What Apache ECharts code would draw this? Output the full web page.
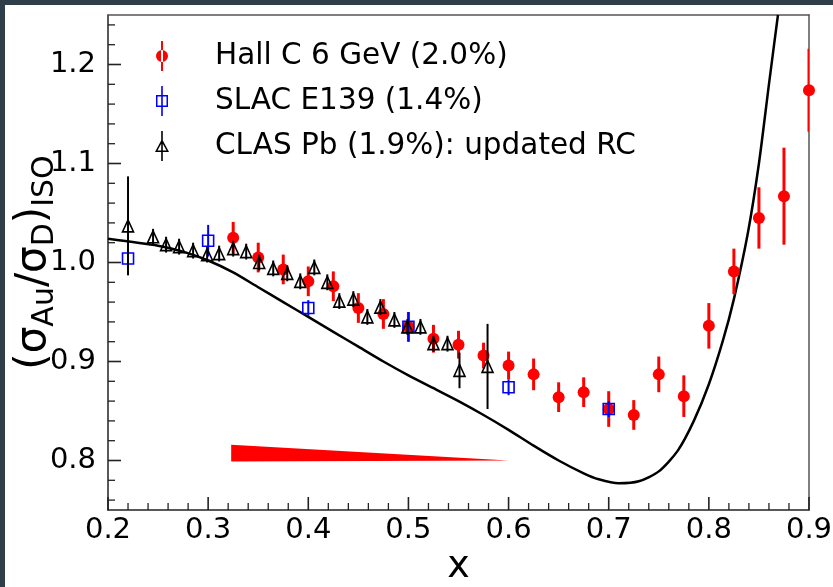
<!DOCTYPE html>
<html>
<head>
<meta charset="utf-8">
<script src="https://cdn.jsdelivr.net/npm/echarts@6/dist/echarts.min.js"></script>
<style>
html,body{margin:0;padding:0;background:#2f3f4a;width:833px;height:587px;overflow:hidden;}
#panel{position:absolute;left:5px;top:5px;width:828px;height:582px;background:#ffffff;}
#chart{position:absolute;left:0;top:0;width:833px;height:587px;}
</style>
</head>
<body>
<div id="panel"></div>
<div id="chart"></div>
<script>
// Hall C 6 GeV
const hallCX = [0.325,0.35,0.375,0.40,0.425,0.45,0.475,0.50,0.525,0.55,0.575,0.60,0.625,0.65,0.675,0.70,0.725,0.75,0.775,0.80,0.825,0.85,0.875,0.90];
const hallCY = [1.025,1.005,0.993,0.981,0.976,0.954,0.948,0.935,0.923,0.917,0.906,0.896,0.887,0.864,0.869,0.852,0.846,0.887,0.865,0.936,0.991,1.045,1.067,1.174];
const hallCErr = [0.016,0.015,0.015,0.015,0.015,0.015,0.015,0.015,0.014,0.014,0.013,0.014,0.016,0.015,0.015,0.018,0.015,0.018,0.021,0.023,0.023,0.031,0.049,0.042];
// SLAC E139
const slacX = [0.22,0.30,0.40,0.50,0.60,0.70];
const slacY = [1.004,1.022,0.954,0.935,0.874,0.852];
const slacErr = [0.015,0.016,0.008,0.015,0.008,0.008];
// CLAS Pb
const clasX = [0.22,0.245,0.258,0.271,0.285,0.299,0.311,0.325,0.338,0.351,0.365,0.379,0.392,0.406,0.419,0.431,0.445,0.459,0.472,0.486,0.499,0.512,0.525,0.539,0.551,0.579];
const clasY = [1.037,1.026,1.018,1.016,1.012,1.008,1.009,1.014,1.011,1.000,0.994,0.989,0.981,0.995,0.980,0.961,0.963,0.945,0.955,0.942,0.935,0.935,0.918,0.918,0.891,0.895];
const clasErr = [0.05,0.008,0.008,0.008,0.008,0.008,0.008,0.008,0.008,0.008,0.008,0.008,0.008,0.008,0.008,0.008,0.008,0.008,0.008,0.008,0.008,0.008,0.008,0.008,0.018,0.043];
// model curve
const modelX = [0.200,0.250,0.275,0.300,0.325,0.350,0.375,0.400,0.425,0.450,0.475,0.500,0.525,0.550,0.575,0.600,0.625,0.650,0.675,0.690,0.710,0.730,0.750,0.769,0.785,0.800,0.814,0.825,0.839,0.850,0.860,0.869];
const modelY = [1.024,1.017,1.011,1.002,0.990,0.975,0.960,0.945,0.930,0.915,0.900,0.886,0.873,0.860,0.846,0.831,0.815,0.800,0.787,0.781,0.777,0.779,0.789,0.810,0.840,0.877,0.921,0.963,1.030,1.100,1.180,1.250];
// normalization band (wedge)
const bandX = [0.323,0.323,0.600];
const bandY = [0.799,0.816,0.800];
// ticks
const xTicks = [0.2,0.3,0.4,0.5,0.6,0.7,0.8,0.9];
const xMinorTicks = [0.22,0.24,0.26,0.28,0.32,0.34,0.36,0.38,0.42,0.44,0.46,0.48,0.52,0.54,0.56,0.58,0.62,0.64,0.66,0.68,0.72,0.74,0.76,0.78,0.82,0.84,0.86,0.88];
const yTicks = [0.8,0.9,1.0,1.1,1.2];
const yMinorTicks = [0.76,0.78,0.82,0.84,0.86,0.88,0.92,0.94,0.96,0.98,1.02,1.04,1.06,1.08,1.12,1.14,1.16,1.18,1.22,1.24];
const X_MIN = 0.2, X_MAX = 0.9, Y_MIN = 0.75, Y_MAX = 1.25;

const names = ['Hall C 6 GeV (2.0%)','SLAC E139 (1.4%)','CLAS Pb (1.9%): updated RC'];
const FONT = 'DejaVu Sans';
const AX = '#222222';

function errData(xs, ys, es){ return xs.map((x,i)=>[x, ys[i]-es[i], ys[i]+es[i]]); }
function errRender(color, width){
  return function(params, api){
    const p1 = api.coord([api.value(0), api.value(1)]);
    const p2 = api.coord([api.value(0), api.value(2)]);
    return {type:'line', shape:{x1:p1[0],y1:p1[1],x2:p2[0],y2:p2[1]}, style:{stroke:color, lineWidth:width}};
  };
}
function tickRender(params, api){
  const kids = [];
  const add = (x1,y1,x2,y2,w)=>kids.push({type:'line',shape:{x1,y1,x2,y2},style:{stroke:AX,lineWidth:w}});
  xTicks.forEach(v=>{const p=api.coord([v,Y_MIN]); add(p[0],p[1],p[0],p[1]-13,1.6);});
  xMinorTicks.forEach(v=>{const p=api.coord([v,Y_MIN]); add(p[0],p[1],p[0],p[1]-7,1.3);});
  yTicks.forEach(v=>{const p=api.coord([X_MIN,v]); add(p[0],p[1],p[0]+13,p[1],1.6);});
  yMinorTicks.forEach(v=>{const p=api.coord([X_MIN,v]); add(p[0],p[1],p[0]+7,p[1],1.3);});
  return {type:'group', children:kids};
}

const iconCircle = 'path://M9,0L11,0L11,30L9,30Z M4,15A6,6 0 1,0 16,15A6,6 0 1,0 4,15Z';
const iconSquare = 'path://M9.2,0L10.8,0L10.8,30L9.2,30Z M4,9L16,9L16,21L4,21Z M5.5,10.5L5.5,19.5L14.5,19.5L14.5,10.5Z';
const iconTri = 'path://M9.2,0L10.8,0L10.8,30L9.2,30Z M3,21L10,8L17,21Z M5.5,19.5L14.5,19.5L10,11.2Z';

const chart = echarts.init(document.getElementById('chart'));
chart.setOption({
  animation:false,
  backgroundColor:'transparent',
  textStyle:{fontFamily:FONT},
  grid:{left:108,right:24,top:15,bottom:77,show:false,containLabel:false, outerBoundsMode:'none'},
  legend:{
    orient:'vertical', left:150, top:36, itemGap:15, itemWidth:20, itemHeight:30,
    textStyle:{fontFamily:FONT,fontSize:29.5,color:'#000',padding:[0,0,0,38]},
    data:[
      {name:names[0], icon:iconCircle, itemStyle:{color:'#ff0000',borderWidth:0}},
      {name:names[1], icon:iconSquare, itemStyle:{color:'#0000ff',borderWidth:0}},
      {name:names[2], icon:iconTri, itemStyle:{color:'#000000',borderWidth:0}}
    ]
  },
  xAxis:[{
    type:'value', min:X_MIN, max:X_MAX, interval:0.1, position:'bottom',
    axisLine:{show:true,onZero:false,lineStyle:{color:AX,width:1.5}},
    axisTick:{show:false},
    splitLine:{show:false},
    axisLabel:{fontFamily:FONT,fontSize:29,color:'#000',margin:6,showMaxLabel:true,showMinLabel:true,
      formatter:v=>v.toFixed(1)},
    name:'x', nameLocation:'middle', nameGap:38, nameMoveOverlap:false,
    nameTextStyle:{fontFamily:FONT,fontSize:38,color:'#000'}
  },{
    type:'value', min:X_MIN, max:X_MAX, position:'top',
    axisLine:{show:true,onZero:false,lineStyle:{color:'#555',width:1.5}},
    axisTick:{show:false}, axisLabel:{show:false}, splitLine:{show:false}
  }],
  yAxis:[{
    type:'value', min:Y_MIN, max:Y_MAX, position:'left',
    axisLine:{show:true,onZero:false,lineStyle:{color:AX,width:1.5}},
    axisTick:{show:false},
    splitLine:{show:false},
    axisLabel:{fontFamily:FONT,fontSize:29,color:'#000',margin:12,customValues:yTicks,formatter:v=>v.toFixed(1)},
    name:'{p|(σ}{s|Au}{p|/σ}{s|D}{p|)}{s|ISO}',
    nameLocation:'middle', nameRotate:90, nameGap:48, nameMoveOverlap:false,
    nameTextStyle:{fontFamily:FONT,color:'#000',
      rich:{
        p:{fontFamily:FONT,fontSize:42,color:'#000',lineHeight:52,verticalAlign:'middle'},
        s:{fontFamily:FONT,fontSize:30,color:'#000',lineHeight:30,verticalAlign:'bottom'}
      }}
  },{
    type:'value', min:Y_MIN, max:Y_MAX, position:'right',
    axisLine:{show:true,onZero:false,lineStyle:{color:'#555',width:1.5}},
    axisTick:{show:false}, axisLabel:{show:false}, splitLine:{show:false}
  }],
  series:[
    {type:'custom', name:'ticks', renderItem:tickRender, data:[[X_MIN, Y_MIN]], clip:false, silent:true, z:20},
    {type:'custom', name:'band', renderItem:function(params, api){
        const pts = bandX.map((x,i)=>api.coord([x, bandY[i]]));
        return {type:'polygon', shape:{points:pts}, style:{fill:'#ff0000'}};
      }, data:[[bandX[0], bandY[0]]], silent:true, z:2},
    {type:'line', name:'model', data:modelX.map((x,i)=>[x, modelY[i]]), showSymbol:false, smooth:0.25,
      lineStyle:{color:'#000',width:2.5}, clip:true, z:3, silent:true},
    {type:'custom', name:'hallCErr', renderItem:errRender('#ff0000',3), data:errData(hallCX,hallCY,hallCErr),
      encode:{x:0,y:[1,2]}, clip:true, z:4},
    {type:'scatter', name:names[0], data:hallCX.map((x,i)=>[x, hallCY[i]]), symbol:'circle', symbolSize:12,
      itemStyle:{color:'#ff0000', opacity:1}, clip:true, z:5},
    {type:'custom', name:'slacErr', renderItem:errRender('#0000ff',2), data:errData(slacX,slacY,slacErr),
      encode:{x:0,y:[1,2]}, clip:true, z:6},
    {type:'scatter', name:names[1], data:slacX.map((x,i)=>[x, slacY[i]]), symbol:'rect', symbolSize:11,
      itemStyle:{color:'rgba(0,0,0,0)', borderColor:'#0000ff', borderWidth:1.6, opacity:1}, clip:true, z:7},
    {type:'custom', name:'clasErr', renderItem:errRender('#000000',2), data:errData(clasX,clasY,clasErr),
      encode:{x:0,y:[1,2]}, clip:true, z:8},
    {type:'scatter', name:names[2], data:clasX.map((x,i)=>[x, clasY[i]]), symbol:'triangle', symbolSize:[11,12],
      itemStyle:{color:'rgba(0,0,0,0)', borderColor:'#000000', borderWidth:1.6, opacity:1}, clip:true, z:9}
  ]
});
</script>
</body>
</html>
